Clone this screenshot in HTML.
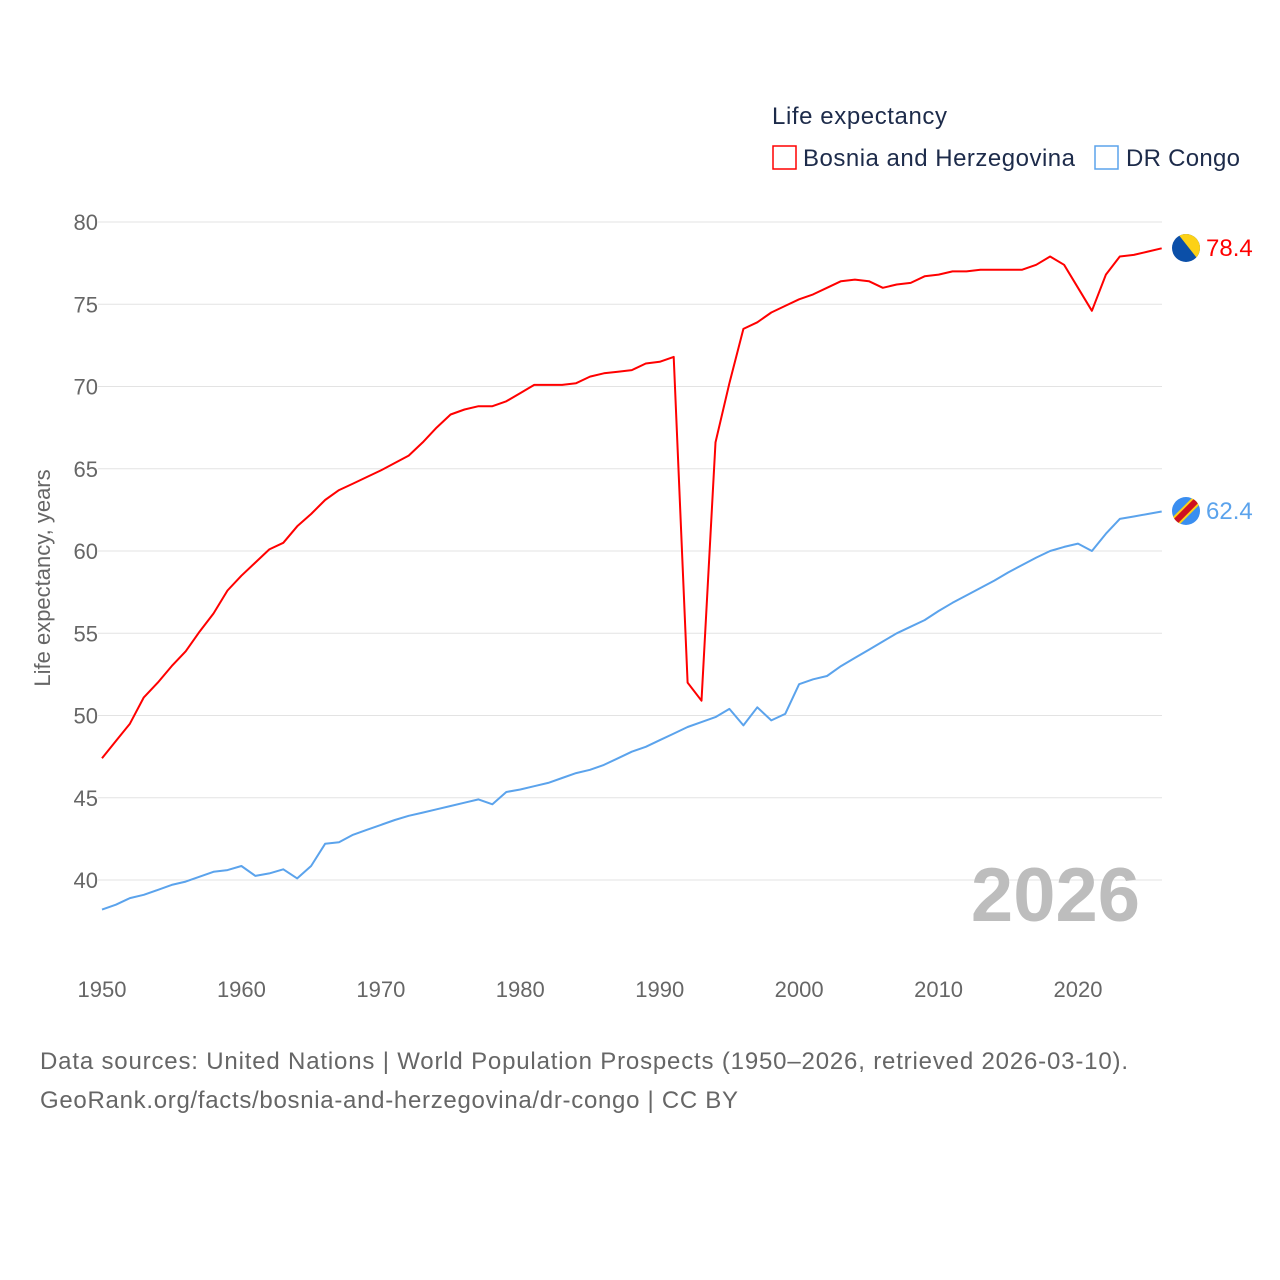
<!DOCTYPE html>
<html><head><meta charset="utf-8"><style>
body{margin:0;background:#fff;}
svg{display:block;font-family:"Liberation Sans",sans-serif;}
</style></head><body>
<svg id="c" width="1280" height="1280" viewBox="0 0 1280 1280">
<defs>
<clipPath id="f1"><circle cx="1186" cy="248" r="14"/></clipPath>
<clipPath id="f2"><circle cx="1186" cy="511" r="14"/></clipPath>
</defs>
<text x="772" y="124" font-size="24" fill="#1d2b4a" textLength="175">Life expectancy</text>
<g>
<rect x="773" y="146" width="23" height="23" fill="none" stroke="#ff0000" stroke-width="1.5"/>
<text x="803" y="166" font-size="24" fill="#1d2b4a" textLength="272">Bosnia and Herzegovina</text></g>
<g>
<rect x="1095" y="146" width="23" height="23" fill="none" stroke="#5ba3ec" stroke-width="1.5"/>
<text x="1126" y="166" font-size="24" fill="#1d2b4a" textLength="114">DR Congo</text></g>
<text transform="translate(50,578) rotate(-90)" text-anchor="middle" font-size="22" fill="#666">Life expectancy, years</text>
<g id="grid"></g><g id="xt"></g>
<text x="1140" y="921" text-anchor="end" font-size="76" font-weight="bold" fill="#bdbdbd">2026</text>
<g id="lines"></g>
<g clip-path="url(#f1)">
<rect x="1172" y="234" width="28" height="28" fill="#0b4fa8"/>
<polygon points="1178,234 1200,234 1200,262" fill="#fcd116"/></g>
<g clip-path="url(#f2)">
<rect x="1172" y="497" width="28" height="28" fill="#3a8ef0"/>
<line x1="1172" y1="525" x2="1200" y2="497" stroke="#fcd116" stroke-width="10"/>
<line x1="1172" y1="525" x2="1200" y2="497" stroke="#ce1021" stroke-width="6"/></g>
<text x="1206" y="256" font-size="24" fill="#ff0000">78.4</text>
<text x="1206" y="519" font-size="24" fill="#5ba3ec">62.4</text>
<text x="40" y="1069" font-size="24" fill="#666" textLength="1088">Data sources: United Nations | World Population Prospects (1950–2026, retrieved 2026-03-10).</text>
<text x="40" y="1108" font-size="24" fill="#666" textLength="698">GeoRank.org/facts/bosnia-and-herzegovina/dr-congo | CC BY</text>
</svg>
<script>
const years=[];for(let y=1950;y<=2026;y++)years.push(y);
const bosnia=[47.4,48.45,49.5,51.1,52.0,53.0,53.9,55.1,56.2,57.6,58.5,59.3,60.1,60.5,61.5,62.25,63.1,63.7,64.1,64.5,64.9,65.35,65.8,66.6,67.5,68.3,68.6,68.8,68.8,69.1,69.6,70.1,70.1,70.1,70.2,70.6,70.8,70.9,71.0,71.4,71.5,71.8,52.0,50.9,66.6,70.2,73.5,73.9,74.5,74.9,75.3,75.6,76.0,76.4,76.5,76.4,76.0,76.2,76.3,76.7,76.8,77.0,77.0,77.1,77.1,77.1,77.1,77.4,77.9,77.4,76.0,74.6,76.8,77.9,78.0,78.2,78.4];
const congo=[38.2,38.5,38.9,39.1,39.4,39.7,39.9,40.2,40.5,40.6,40.85,40.25,40.4,40.65,40.1,40.85,42.2,42.3,42.75,43.05,43.35,43.65,43.9,44.1,44.3,44.5,44.7,44.9,44.6,45.35,45.5,45.7,45.9,46.2,46.5,46.7,47.0,47.4,47.8,48.1,48.5,48.9,49.3,49.6,49.9,50.4,49.4,50.5,49.7,50.1,51.9,52.2,52.4,53.0,53.5,54.0,54.5,55.0,55.4,55.8,56.35,56.85,57.3,57.75,58.2,58.7,59.15,59.6,60.0,60.25,60.45,60.0,61.05,61.95,62.1,62.25,62.4];
const yTicks=[40,45,50,55,60,65,70,75,80];
const xTicks=[1950,1960,1970,1980,1990,2000,2010,2020];
const NS='http://www.w3.org/2000/svg';
const xS=y=>102+(y-1950)*976/70;
const yS=v=>222+(80-v)*658/40;
function mk(t,a,p){const e=document.createElementNS(NS,t);for(const k in a)e.setAttribute(k,a[k]);p.appendChild(e);return e;}
const grid=document.getElementById('grid');
yTicks.forEach(v=>{
 const l=mk('line',{x1:98,x2:1162,y1:yS(v),y2:yS(v),stroke:'#e3e3e3','stroke-width':1},grid);
 
 
 const t=mk('text',{x:98,y:yS(v)+8,'text-anchor':'end','font-size':22,fill:'#666'},grid);
 t.textContent=v;
 
 
});
const xt=document.getElementById('xt');
xTicks.forEach(v=>{
 const t=mk('text',{x:xS(v),y:997,'text-anchor':'middle','font-size':22,fill:'#666'},xt);
 t.textContent=v;
 
 
});
const lines=document.getElementById('lines');
[[congo,'#5ba3ec','congo-line'],[bosnia,'#ff0000','bosnia-line']].forEach(([d,c,n])=>{
 const p=mk('path',{d:d.map((v,i)=>(i?'L':'M')+xS(years[i]).toFixed(1)+','+yS(v).toFixed(1)).join(''),fill:'none',stroke:c,'stroke-width':2,'stroke-linejoin':'round'},lines);
 
 
});
</script>
</body></html>
